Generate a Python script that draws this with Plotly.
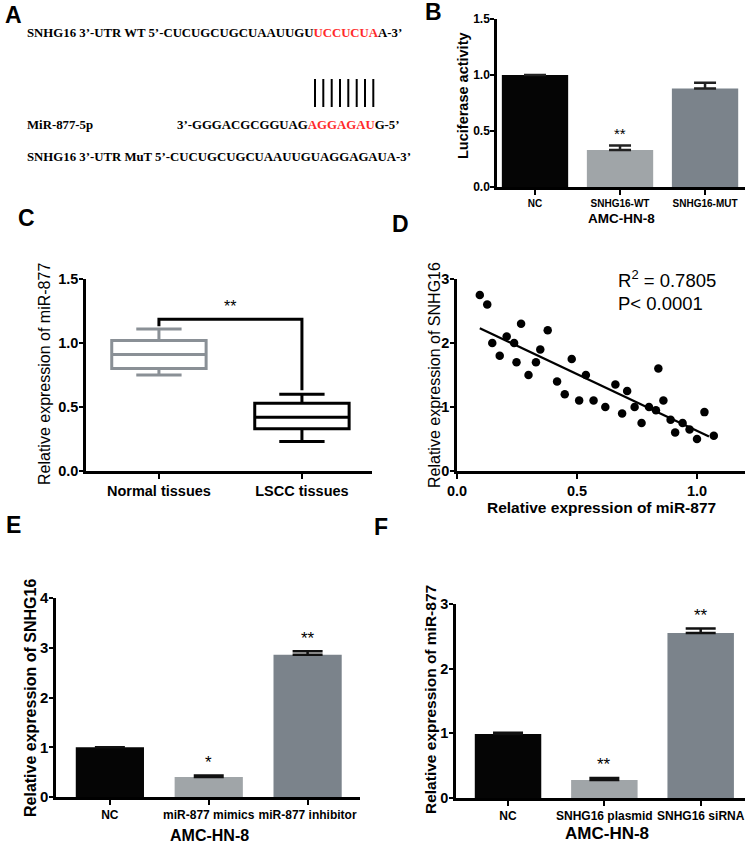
import numpy as np
import plotly.graph_objects as go

W, H = 750, 843

# ---------------- data ----------------
# Panel B
b_cats = ["NC", "SNHG16-WT", "SNHG16-MUT"]
b_vals = [1.0, 0.33, 0.88]
b_err = [0.0, 0.04, 0.05]
b_stars = ["", "**", ""]

# Panel C (box plot stats)
c_cats = ["Normal tissues", "LSCC tissues"]
c_q1 = [0.80, 0.33]
c_med = [0.91, 0.42]
c_q3 = [1.02, 0.53]
c_low = [0.75, 0.23]
c_high = [1.11, 0.60]
c_bracket_y = [1.13, 1.185, 1.185, 0.63]

# Panel D (scatter)
d_x = [0.095, 0.126, 0.147, 0.178, 0.207, 0.238, 0.248, 0.267, 0.298, 0.329,
       0.347, 0.378, 0.417, 0.449, 0.478, 0.509, 0.537, 0.569, 0.618, 0.660,
       0.688, 0.709, 0.740, 0.769, 0.800, 0.829, 0.839, 0.860, 0.890, 0.909,
       0.940, 0.969, 1.000, 1.031, 1.070]
d_y = [2.75, 2.60, 2.00, 1.80, 2.10, 2.00, 1.70, 2.30, 1.50, 1.70,
       1.90, 2.20, 1.40, 1.20, 1.75, 1.10, 1.50, 1.10, 1.00, 1.35,
       0.90, 1.25, 1.00, 0.75, 1.00, 0.95, 1.60, 1.10, 0.80, 0.60,
       0.75, 0.65, 0.50, 0.92, 0.55]
d_r2 = "0.7805"
d_p = "0.0001"

# Panel E
e_cats = ["NC", "miR-877 mimics", "miR-877 inhibitor"]
e_vals = [1.0, 0.40, 2.86]
e_err = [0.0, 0.03, 0.07]
e_stars = ["", "*", "**"]

# Panel F
f_cats = ["NC", "SNHG16 plasmid", "SNHG16 siRNA"]
f_vals = [0.99, 0.28, 2.55]
f_err = [0.02, 0.03, 0.07]
f_stars = ["", "**", "**"]

bar_colors = ["#050505", "#a0a5a8", "#7b838b"]

# ---------------- helpers ----------------
def px(x):
    return x / W

def py(y):
    return 1 - y / H

SANS = "Liberation Sans"
SERIF = "Liberation Serif"

fig = go.Figure()
annotations = []
shapes = []

def add_axes(n, xdom, ydom, xrange, yrange, xtickvals, xticktext, ytickvals, yticktext,
             xfont, yfont):
    xa = dict(domain=[px(xdom[0]), px(xdom[1])], range=xrange, showline=True,
              linecolor="black", linewidth=2.5, ticks="outside", ticklen=5, tickwidth=2,
              tickcolor="black", tickvals=xtickvals, ticktext=xticktext, showgrid=False,
              zeroline=False, anchor="y%d" % n, tickfont=xfont, fixedrange=True,
              automargin=False)
    ya = dict(domain=[py(ydom[0]), py(ydom[1])], range=yrange, showline=True,
              linecolor="black", linewidth=2.5, ticks="outside", ticklen=4, tickwidth=2,
              tickcolor="black", tickvals=ytickvals, ticktext=yticktext, showgrid=False,
              zeroline=False, anchor="x%d" % n, tickfont=yfont, fixedrange=True,
              automargin=False, ticklabelstandoff=-2)
    return xa, ya

layout_axes = {}

# ---- Panel B ----
xa, ya = add_axes(1, (497, 745), (187, 19), [-0.447, 2.47], [0, 1.5],
                  [0, 1, 2], b_cats, [0, 0.5, 1.0, 1.5], ["0.0", "0.5", "1.0", "1.5"],
                  dict(family=SANS, size=10, color="black", weight="bold"),
                  dict(family=SANS, size=12, color="black", weight="bold"))
layout_axes["xaxis"] = xa
layout_axes["yaxis"] = ya
fig.add_trace(go.Bar(x=[0, 1, 2], y=b_vals, width=0.78, marker_color=bar_colors,
                     marker_line_width=0,
                     error_y=dict(type="data", array=b_err, arrayminus=[0, 0, 0], symmetric=False,
                                  color="#222222", thickness=2.5, width=11),
                     xaxis="x", yaxis="y", showlegend=False))
for i, s in enumerate(b_stars):
    if s:
        annotations.append(dict(x=i, y=b_vals[i] + b_err[i] + 0.01, xref="x", yref="y",
                                text=s, showarrow=False, yanchor="bottom",
                                font=dict(family=SANS, size=15, color="black")))

# ---- Panel C ----
xa, ya = add_axes(2, (86, 372), (471, 279), [-0.51, 1.49], [0, 1.5],
                  [0, 1], c_cats, [0, 0.5, 1.0, 1.5], ["0.0", "0.5", "1.0", "1.5"],
                  dict(family=SANS, size=14.5, color="black", weight="bold"),
                  dict(family=SANS, size=14.5, color="black", weight="bold"))
layout_axes["xaxis2"] = xa
layout_axes["yaxis2"] = ya
box_colors = ["#8a9096", "#000000"]
for i in range(2):
    fig.add_trace(go.Box(x=[i], q1=[c_q1[i]], median=[c_med[i]], q3=[c_q3[i]],
                         lowerfence=[c_low[i]], upperfence=[c_high[i]], width=0.66,
                         whiskerwidth=0.48, line=dict(color=box_colors[i], width=3),
                         fillcolor="white", xaxis="x2", yaxis="y2", showlegend=False,
                         boxpoints=False))
fig.add_trace(go.Scatter(x=[0, 0, 1, 1], y=c_bracket_y, mode="lines",
                         line=dict(color="black", width=3), xaxis="x2", yaxis="y2",
                         showlegend=False))
annotations.append(dict(x=0.5, y=max(c_bracket_y) + 0.02, xref="x2", yref="y2", text="**",
                        showarrow=False, yanchor="bottom",
                        font=dict(family=SANS, size=16, color="black")))

# ---- Panel D ----
xa, ya = add_axes(3, (457, 745), (471, 279), [0, 1.2], [0, 3],
                  [0, 0.5, 1.0], ["0.0", "0.5", "1.0"], [0, 1, 2, 3], ["0", "1", "2", "3"],
                  dict(family=SANS, size=14.5, color="black", weight="bold"),
                  dict(family=SANS, size=14.5, color="black", weight="bold"))
layout_axes["xaxis3"] = xa
layout_axes["yaxis3"] = ya
fig.add_trace(go.Scatter(x=d_x, y=d_y, mode="markers",
                         marker=dict(color="black", size=8.5), xaxis="x3", yaxis="y3",
                         showlegend=False))
dx = np.array(d_x)
dy = np.array(d_y)
slope, intercept = np.polyfit(dx, dy, 1)
lx = np.array([dx.min(), dx.max() - 0.02])
fig.add_trace(go.Scatter(x=lx, y=slope * lx + intercept, mode="lines",
                         line=dict(color="black", width=2.2), xaxis="x3", yaxis="y3",
                         showlegend=False))
annotations.append(dict(x=px(616), y=py(279), xref="paper", yref="paper",
                        text="R<sup>2</sup> = " + d_r2, showarrow=False, xanchor="left",
                        yanchor="middle", font=dict(family=SANS, size=18.5, color="black")))
annotations.append(dict(x=px(616), y=py(303), xref="paper", yref="paper",
                        text="P< " + d_p, showarrow=False, xanchor="left",
                        yanchor="middle", font=dict(family=SANS, size=18.5, color="black")))

# ---- Panel E ----
xa, ya = add_axes(4, (56, 360), (797, 598), [-0.545, 2.53], [0, 4],
                  [0, 1, 2], e_cats, [0, 1, 2, 3, 4], ["0", "1", "2", "3", "4"],
                  dict(family=SANS, size=12, color="black", weight="bold"),
                  dict(family=SANS, size=15, color="black", weight="bold"))
layout_axes["xaxis4"] = xa
layout_axes["yaxis4"] = ya
fig.add_trace(go.Bar(x=[0, 1, 2], y=e_vals, width=0.69, marker_color=bar_colors,
                     marker_line_width=0,
                     error_y=dict(type="data", array=e_err, arrayminus=[0, 0, 0], symmetric=False,
                                  color="#111111", thickness=2.5, width=15),
                     xaxis="x4", yaxis="y4", showlegend=False))
for i, s in enumerate(e_stars):
    if s:
        annotations.append(dict(x=i, y=e_vals[i] + e_err[i] + 0.03, xref="x4", yref="y4",
                                text=s, showarrow=False, yanchor="bottom",
                                font=dict(family=SANS, size=17, color="black")))

# ---- Panel F ----
xa, ya = add_axes(5, (456, 745), (798, 604), [-0.54, 2.46], [0, 3],
                  [0, 1, 2], f_cats, [0, 1, 2, 3], ["0", "1", "2", "3"],
                  dict(family=SANS, size=12, color="black", weight="bold"),
                  dict(family=SANS, size=14.5, color="black", weight="bold"))
layout_axes["xaxis5"] = xa
layout_axes["yaxis5"] = ya
fig.add_trace(go.Bar(x=[0, 1, 2], y=f_vals, width=0.69, marker_color=bar_colors,
                     marker_line_width=0,
                     error_y=dict(type="data", array=f_err, arrayminus=[0, 0, 0], symmetric=False,
                                  color="#111111", thickness=2.5, width=15),
                     xaxis="x5", yaxis="y5", showlegend=False))
for i, s in enumerate(f_stars):
    if s:
        annotations.append(dict(x=i, y=f_vals[i] + f_err[i] + 0.03, xref="x5", yref="y5",
                                text=s, showarrow=False, yanchor="bottom",
                                font=dict(family=SANS, size=17, color="black")))

# ---- axis titles (as annotations) ----
def title(text, x, y, size, bold, angle=0):
    annotations.append(dict(x=px(x), y=py(y), xref="paper", yref="paper", text=text,
                            showarrow=False, textangle=angle, xanchor="center",
                            yanchor="middle", borderpad=0,
                            font=dict(family=SANS, size=size, color="black",
                                      weight="bold" if bold else "normal")))

title("Luciferase activity", 463, 95, 14.5, True, -90)
title("AMC-HN-8", 621, 218, 13.5, True)
title("Relative expression of miR-877", 44, 374, 16, False, -90)
title("Relative expression of SNHG16", 434, 375, 16, False, -90)
title("Relative expression of miR-877", 601, 508, 15.5, True)
title("Relative expression of SNHG16", 30, 698, 16, True, -90)
title("AMC-HN-8", 209, 835, 16, True)
title("Relative expression of miR-877", 430, 700, 15.5, True, -90)
title("AMC-HN-8", 607, 833, 17, True)

# ---- panel letters ----
for letter, x, y in [("A", 13, 15), ("B", 433, 12), ("C", 27, 218), ("D", 400, 224),
                     ("E", 13, 525), ("F", 381, 527)]:
    title(letter, x, y, 23, True)

# ---- Panel A sequences ----
RED = "#ff2a2a"
def seq(text, x, y):
    annotations.append(dict(x=px(x), y=py(y), xref="paper", yref="paper", text=text,
                            showarrow=False, xanchor="left", yanchor="middle",
                            font=dict(family=SERIF, size=12.8, color="black", weight="bold")))

seq("SNHG16 3’-UTR WT 5’-CUCUGCUGCUAAUUGU<span style='color:%s'>UCCUCUA</span>A-3’" % RED, 25, 33)
seq("MiR-877-5p", 25, 125)
seq("3’-GGGACGCGGUAG<span style='color:%s'>AGGAGAU</span>G-5’" % RED, 175, 125)
seq("SNHG16 3’-UTR MuT 5’-CUCUGCUGCUAAUUGUAGGAGAUA-3’", 25, 157)

pair_x = [315, 323.3, 331.7, 340, 348.3, 356.7, 365, 373.3]
for xx in pair_x:
    shapes.append(dict(type="line", xref="paper", yref="paper", x0=px(xx), x1=px(xx),
                       y0=py(79), y1=py(107), line=dict(color="black", width=2)))

fig.update_layout(width=W, height=H, margin=dict(l=0, r=0, t=0, b=0, pad=0),
                  autosize=False,
                  paper_bgcolor="white", plot_bgcolor="white",
                  annotations=annotations, shapes=shapes, showlegend=False,
                  **layout_axes)

fig.write_html("out.html", config={"displayModeBar": False},
               post_script="document.body.style.margin='0';document.body.style.padding='0';"
                           "document.body.style.overflow='hidden';")
